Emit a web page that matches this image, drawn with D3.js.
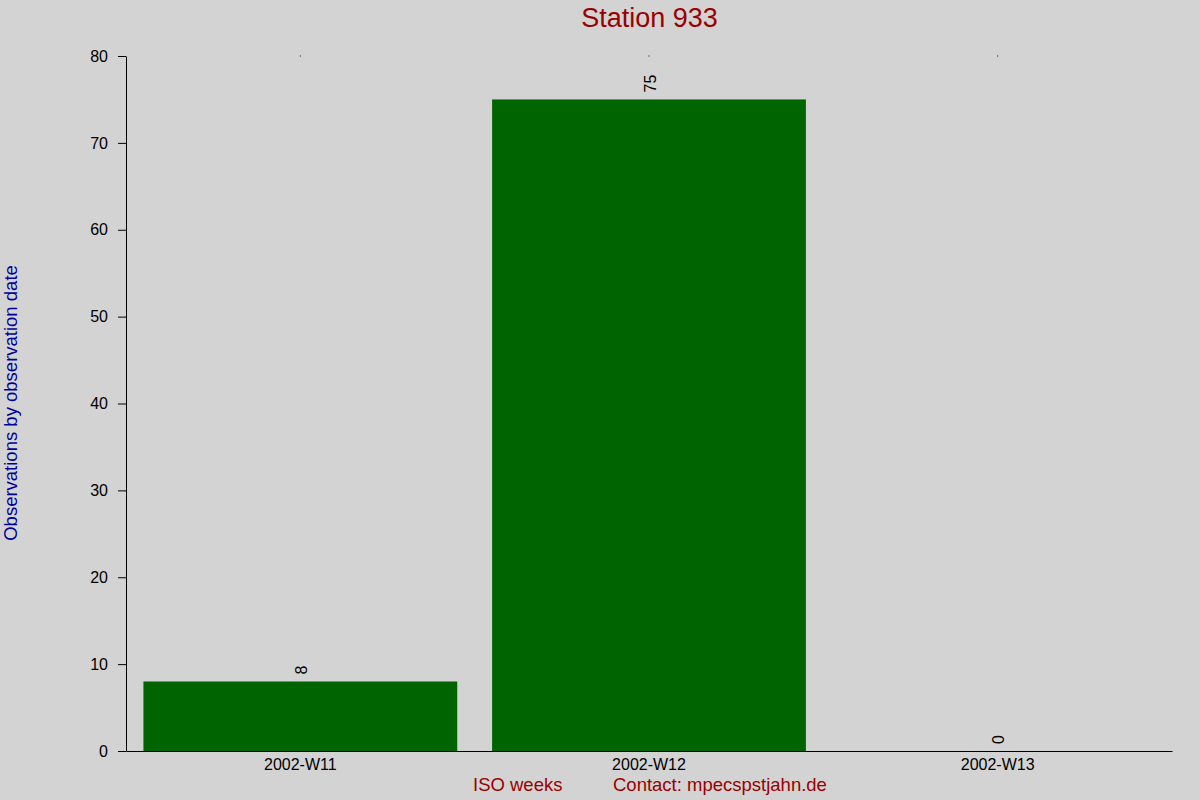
<!DOCTYPE html>
<html><head><meta charset="utf-8">
<script src="https://cdn.jsdelivr.net/npm/d3@7"></script>
<style>html,body{margin:0;padding:0;background:#d3d3d3;}svg{display:block;font-family:"Liberation Sans",Arial,sans-serif;}</style>
</head><body>
<script>
const categories = ["2002-W11","2002-W12","2002-W13"];
const values = [8, 75, 0];
const yTicks = [0,10,20,30,40,50,60,70,80];
const titleText = "Station 933";
const yLabelText = "Observations by observation date";
const xLabelText = "ISO weeks";
const contactText = "Contact: mpecspstjahn.de";

const W=1200,H=800;
const m={left:126,right:28,top:56,bottom:49};
const svg=d3.select("body").append("svg").attr("width",W).attr("height",H);
svg.append("rect").attr("width",W).attr("height",H).attr("fill","#d3d3d3");

const x=d3.scaleBand().domain(categories).range([m.left,W-m.right]).paddingInner(0.1).paddingOuter(0.05);
const y=d3.scaleLinear().domain([0,80]).range([H-m.bottom,m.top]);

// bars
svg.selectAll("rect.bar").data(values).join("rect").attr("class","bar")
  .attr("x",(d,i)=>x(categories[i])).attr("width",x.bandwidth())
  .attr("y",d=>y(d)).attr("height",d=>y(0)-y(d)).attr("fill","#006400");

// value labels
svg.selectAll("text.val").data(values).join("text").attr("class","val")
  .attr("transform",(d,i)=>`translate(${x(categories[i])+x.bandwidth()/2+6.5},${y(d)-7}) rotate(-90)`)
  .attr("font-size",16).attr("fill","#000").text(d=>d);

// top dots
svg.selectAll("rect.dot").data(categories).join("rect").attr("class","dot")
  .attr("x",d=>x(d)+x.bandwidth()/2-0.5).attr("y",m.top-0.5).attr("width",1).attr("height",1).attr("fill","#000");

// y axis
const ya=svg.append("g").attr("transform",`translate(${m.left},0)`)
  .call(d3.axisLeft(y).tickValues(yTicks).tickSize(8).tickSizeOuter(0).tickPadding(10));
ya.select(".domain").attr("stroke","#000");
ya.selectAll("text").attr("font-size",16).attr("fill","#000").attr("font-family","Liberation Sans, Arial, sans-serif");

// x axis
const xa=svg.append("g").attr("transform",`translate(0,${H-m.bottom})`)
  .call(d3.axisBottom(x).tickSize(0).tickSizeOuter(0).tickPadding(8));
xa.select(".domain").attr("stroke","#000");
xa.selectAll("text").attr("font-size",16).attr("fill","#000").attr("font-family","Liberation Sans, Arial, sans-serif");

// title
svg.append("text").attr("x",649.5).attr("y",27).attr("text-anchor","middle")
  .attr("font-size",27).attr("fill","#990000").text(titleText);

// y label
svg.append("text").attr("transform",`translate(17,403) rotate(-90)`).attr("text-anchor","middle")
  .attr("font-size",18.5).attr("fill","#000099").text(yLabelText);

// x labels
svg.append("text").attr("x",473).attr("y",791).attr("font-size",18.5).attr("fill","#990000").text(xLabelText);
svg.append("text").attr("x",613).attr("y",791).attr("font-size",18.5).attr("fill","#990000").text(contactText);
</script>
</body></html>
